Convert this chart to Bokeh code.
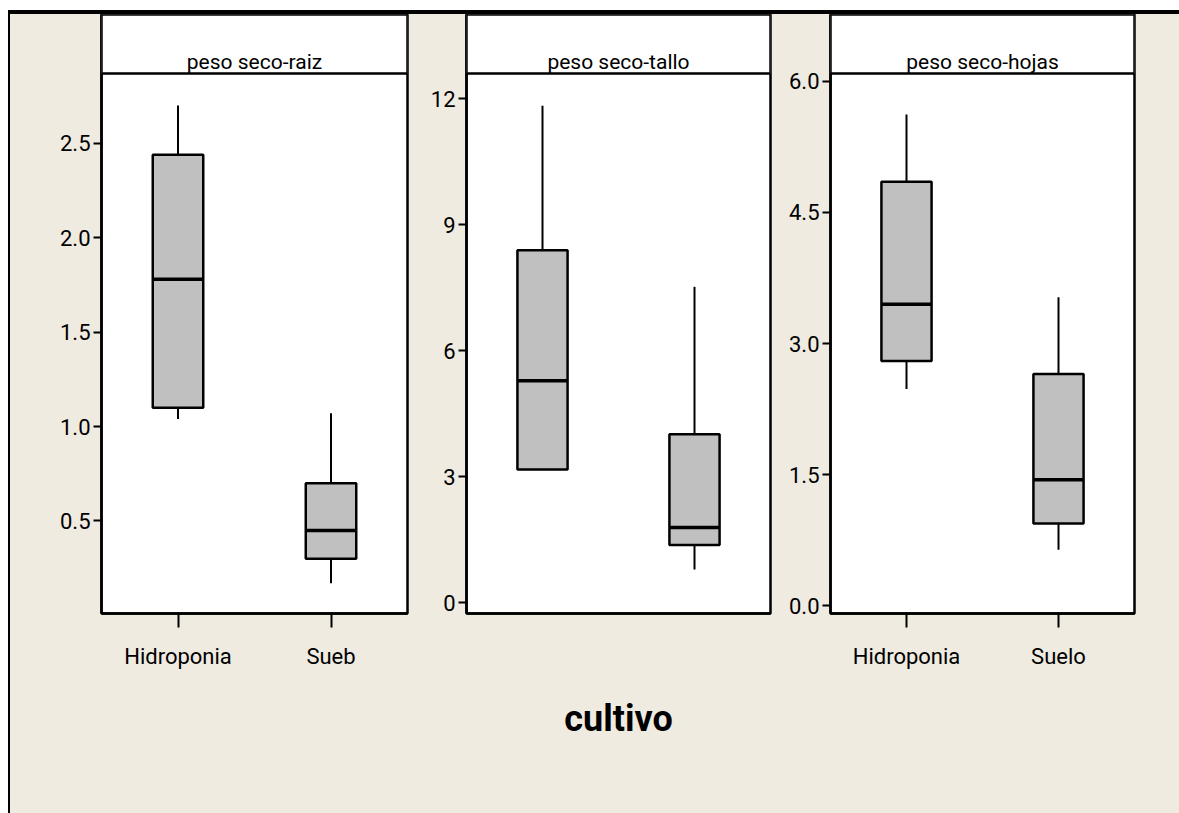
from bokeh.plotting import figure
from bokeh.layouts import row
from bokeh.models import (ColumnDataSource, Range1d, FixedTicker, NumeralTickFormatter,
                          BoxAnnotation, Label)
from bokeh.transform import dodge
from bokeh.embed import file_html
from bokeh.resources import INLINE

# ---- data -------------------------------------------------------------
cultivos = ["Hidroponia", "Suelo"]
posiciones = [1, 2]

panel_titles = ["peso seco-raiz", "peso seco-tallo", "peso seco-hojas"]
tick_labels_raiz = ["Hidroponia", "Sueb"]
tick_labels_hojas = ["Hidroponia", "Suelo"]

# five-number summaries per cultivo: whisker low, Q1, median, Q3, whisker high
raiz_min = [1.04, 0.17]
raiz_q1 = [1.10, 0.30]
raiz_med = [1.78, 0.45]
raiz_q3 = [2.44, 0.70]
raiz_max = [2.70, 1.07]

tallo_min = [3.17, 0.79]
tallo_q1 = [3.17, 1.37]
tallo_med = [5.28, 1.79]
tallo_q3 = [8.39, 4.01]
tallo_max = [11.83, 7.52]

hojas_min = [2.48, 0.64]
hojas_q1 = [2.80, 0.94]
hojas_med = [3.45, 1.44]
hojas_q3 = [4.85, 2.65]
hojas_max = [5.62, 3.53]

y_ticks_raiz = [0.5, 1.0, 1.5, 2.0, 2.5]
y_ticks_tallo = [0, 3, 6, 9, 12]
y_ticks_hojas = [0.0, 1.5, 3.0, 4.5, 6.0]

# ---- style ------------------------------------------------------------
BG = "#EFEBE1"
BOX_FILL = "#C0C0C0"
FONT = "Roboto"
PLOT_H = 540      # height of the data area (below the title strip)
STRIP_H = 59      # height of the title strip on top of each panel
BOTTOM = 200      # room for tick labels and the axis title
BOX_W = 0.33


def panel(title, mins, q1s, meds, q3s, maxs, y_range, y_ticks, y_fmt, x_labels,
          width, left, right, axis_label=None):
    src = ColumnDataSource(dict(x=posiciones, cultivo=cultivos, lo=mins, q1=q1s,
                                med=meds, q3=q3s, hi=maxs))
    y0, y1 = y_range
    per_px = (y1 - y0) / PLOT_H
    y_top = y1 + STRIP_H * per_px  # range extended to hold the title strip

    p = figure(width=width, height=PLOT_H + STRIP_H + BOTTOM, x_range=Range1d(0.5, 2.5),
               y_range=Range1d(y0, y_top), toolbar_location=None, output_backend="svg",
               min_border_left=left, min_border_right=right,
               min_border_top=0, min_border_bottom=BOTTOM)
    p.grid.visible = False
    p.background_fill_color = "white"
    p.border_fill_color = BG
    p.outline_line_color = "black"
    p.outline_line_width = 2.5

    # title strip
    p.add_layout(BoxAnnotation(bottom=y1, fill_color="white", fill_alpha=1.0,
                               line_color="black", line_alpha=1.0, line_width=2.5))
    p.add_layout(Label(x=1.5, y=y1 + 0.2 * STRIP_H * per_px, text=title,
                       text_align="center", text_baseline="alphabetic",
                       text_font=FONT, text_font_size="21px", text_color="black"))

    # whiskers, boxes, medians
    p.segment(x0="x", y0="q3", x1="x", y1="hi", source=src, line_color="black", line_width=2)
    p.segment(x0="x", y0="lo", x1="x", y1="q1", source=src, line_color="black", line_width=2)
    p.vbar(x="x", bottom="q1", top="q3", width=BOX_W, source=src,
           fill_color=BOX_FILL, line_color="black", line_width=2.5)
    p.segment(x0=dodge("x", -BOX_W / 2), y0="med", x1=dodge("x", BOX_W / 2), y1="med",
              source=src, line_color="black", line_width=3.5)

    # y axis
    ya = p.yaxis[0]
    ya.ticker = FixedTicker(ticks=y_ticks)
    ya.formatter = NumeralTickFormatter(format=y_fmt)
    ya.minor_tick_line_color = None
    ya.major_tick_in = 0
    ya.major_tick_out = 8
    ya.major_tick_line_width = 2
    ya.major_label_standoff = 3
    ya.axis_line_width = 2.5
    ya.major_label_text_font = FONT
    ya.major_label_text_font_size = "22px"
    ya.major_label_text_color = "black"

    # x axis
    xa = p.xaxis[0]
    xa.minor_tick_line_color = None
    xa.axis_line_width = 2.5
    xa.major_tick_in = 0
    xa.major_tick_line_width = 2
    xa.major_label_text_font = FONT
    xa.major_label_text_font_size = "22px"
    xa.major_label_text_color = "black"
    if x_labels:
        xa.ticker = FixedTicker(ticks=posiciones)
        xa.major_label_overrides = {pos: lab for pos, lab in zip(posiciones, x_labels)}
        xa.major_tick_out = 14
        xa.major_label_standoff = 16
    else:
        xa.ticker = FixedTicker(ticks=[])
        xa.major_tick_out = 0
        xa.major_label_standoff = 0
    if axis_label:
        xa.axis_label = axis_label
        xa.axis_label_text_font = FONT
        xa.axis_label_text_font_style = "bold"
        xa.axis_label_text_font_size = "36px"
        xa.axis_label_text_color = "black"
        xa.axis_label_standoff = 84
    return p


# panel widths / borders: [left border, frame, right border]
W1 = (91, 306, 15)
W2 = (44, 304, 15)
W3 = (45, 304, 45)

p1 = panel(panel_titles[0], raiz_min, raiz_q1, raiz_med, raiz_q3, raiz_max, (0.01, 2.87),
           y_ticks_raiz, "0.0", tick_labels_raiz, sum(W1), W1[0], W1[2])
p2 = panel(panel_titles[1], tallo_min, tallo_q1, tallo_med, tallo_q3, tallo_max, (-0.26, 12.6),
           y_ticks_tallo, "0", None, sum(W2), W2[0], W2[2], axis_label="cultivo")
p3 = panel(panel_titles[2], hojas_min, hojas_q1, hojas_med, hojas_q3, hojas_max, (-0.09, 6.09),
           y_ticks_hojas, "0.0", tick_labels_hojas, sum(W3), W3[0], W3[2])

layout = row(
    p1, p2, p3, spacing=0,
    styles={"margin-top": "10px", "margin-left": "8px", "border-top": "4px solid black",
            "border-left": "2px solid black", "background-color": BG},
)

open("out.html", "w").write(file_html(layout, INLINE))
